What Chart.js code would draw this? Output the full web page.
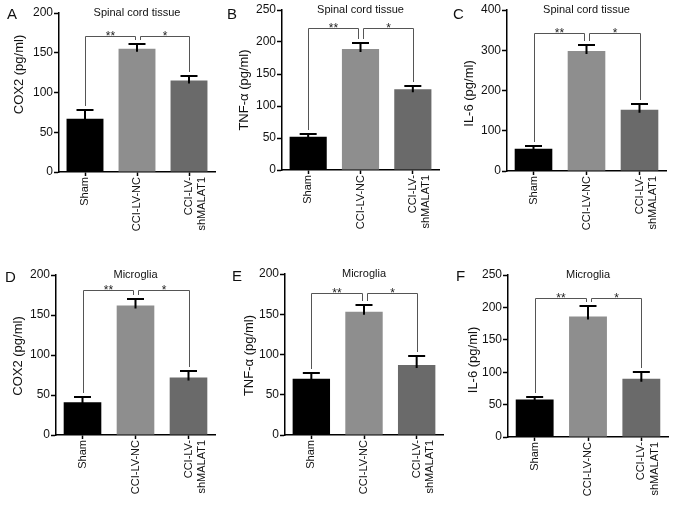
<!DOCTYPE html>
<html>
<head>
<meta charset="utf-8">
<script src="https://cdn.jsdelivr.net/npm/chart.js@4.4.0/dist/chart.umd.min.js"></script>
<style>
  body { margin: 0; background: #fff; width: 677px; height: 507px; position: relative; overflow: hidden; }
  canvas { position: absolute; }
</style>
</head>
<body>
<canvas id="pA" width="225" height="250" style="left:0;top:0"></canvas>
<canvas id="pB" width="225" height="250" style="left:225px;top:0"></canvas>
<canvas id="pC" width="227" height="250" style="left:450px;top:0"></canvas>
<canvas id="pD" width="225" height="257" style="left:0;top:250px"></canvas>
<canvas id="pE" width="225" height="257" style="left:225px;top:250px"></canvas>
<canvas id="pF" width="227" height="257" style="left:450px;top:250px"></canvas>
<script>
"use strict";

const FONT = "'Liberation Sans', Arial, Helvetica, sans-serif";

// groups on the x axis (last one split over two lines)
const categories = [["Sham"], ["CCI-LV-NC"], ["CCI-LV-", "shMALAT1"]];
const barColors = ["#000000", "#8e8e8e", "#6a6a6a"];

const panelLetters = ["A", "B", "C", "D", "E", "F"];
const panelTitles = ["Spinal cord tissue", "Spinal cord tissue", "Spinal cord tissue", "Microglia", "Microglia", "Microglia"];
const yTitles = ["COX2 (pg/ml)", "TNF-\u03b1 (pg/ml)", "IL-6 (pg/ml)", "COX2 (pg/ml)", "TNF-\u03b1 (pg/ml)", "IL-6 (pg/ml)"];
const yMax = [200, 250, 400, 200, 200, 250];
const yStep = [50, 50, 100, 50, 50, 50];

// mean values and error (SEM)
const spinalCox2 = [67, 155, 115];
const spinalCox2Err = [11, 6, 6];
const spinalTnf = [52, 189, 126];
const spinalTnfErr = [4, 10, 6];
const spinalIl6 = [55, 298, 152];
const spinalIl6Err = [7, 14, 15];
const microCox2 = [41, 162, 72];
const microCox2Err = [6, 8, 8];
const microTnf = [70, 153, 87];
const microTnfErr = [7, 8, 11];
const microIl6 = [58, 186, 90];
const microIl6Err = [4, 16, 11];

const allValues = [spinalCox2, spinalTnf, spinalIl6, microCox2, microTnf, microIl6];
const allErrors = [spinalCox2Err, spinalTnfErr, spinalIl6Err, microCox2Err, microTnfErr, microIl6Err];

// height of the significance brackets, and their labels
const bracketLevel = [171, 222, 344, 181, 177, 215];
const stars = ["**", "*"];

// layout of each panel inside its canvas: plot left/right/top/bottom,
// y title x and vertical shift, letter spot
const layouts = [
  { id: "pA", l: 59, r: 215, t: 13, b: 172, tx: 19, ty: -18, lx: 7, ly: 19 },
  { id: "pB", l: 57, r: 214, t: 10, b: 170, tx: 19, ty: 0, lx: 2, ly: 19 },
  { id: "pC", l: 57, r: 216, t: 10, b: 171, tx: 19, ty: 3, lx: 3, ly: 19 },
  { id: "pD", l: 56, r: 215, t: 25, b: 185, tx: 18, ty: 1, lx: 5, ly: 32 },
  { id: "pE", l: 60, r: 218, t: 24, b: 185, tx: 24.5, ty: 1, lx: 7, ly: 31 },
  { id: "pF", l: 58, r: 218, t: 25, b: 187, tx: 23, ty: 4, lx: 6, ly: 31 },
];

// error bars, brackets, panel title, y title and letter
const sigPanel = {
  id: "sigPanel",
  afterDatasetsDraw(chart, args, o) {
    const { ctx, chartArea } = chart;
    const y = chart.scales.y;
    const bars = chart.getDatasetMeta(0).data;
    const vals = chart.data.datasets[0].data;
    const tops = [];
    ctx.save();

    ctx.strokeStyle = "#000";
    ctx.lineWidth = 2;
    bars.forEach((bar, i) => {
      const top = Math.round(y.getPixelForValue(vals[i] + o.errors[i]));
      tops.push(top);
      ctx.beginPath();
      ctx.moveTo(bar.x, bar.y + 3);
      ctx.lineTo(bar.x, top);
      ctx.moveTo(bar.x - 8.5, top);
      ctx.lineTo(bar.x + 8.5, top);
      ctx.stroke();
    });

    const by = Math.round(y.getPixelForValue(o.bracket)) + 0.5;
    ctx.strokeStyle = "#555";
    ctx.lineWidth = 1;
    ctx.fillStyle = "#222";
    ctx.font = "12px " + FONT;
    ctx.textAlign = "center";
    ctx.textBaseline = "alphabetic";
    [[0, 1], [1, 2]].forEach(([a, b], k) => {
      const xa = Math.round(bars[a].x + (k === 1 ? 2.5 : 0)) + 0.5;
      const xb = Math.round(bars[b].x - (k === 0 ? 2.5 : 0)) + 0.5;
      ctx.beginPath();
      ctx.moveTo(xa, tops[a] - 4);
      ctx.lineTo(xa, by);
      ctx.lineTo(xb, by);
      ctx.lineTo(xb, tops[b] - 4);
      ctx.stroke();
      ctx.fillText(stars[k], (xa + xb) / 2, by + 3);
    });

    ctx.fillStyle = "#111";
    ctx.font = "11px " + FONT;
    ctx.textBaseline = "middle";
    ctx.fillText(o.title, (chartArea.left + chartArea.right) / 2, chartArea.top - 0.5);

    // y axis title
    ctx.save();
    ctx.font = "13px " + FONT;
    ctx.translate(o.tx, (chartArea.top + chartArea.bottom) / 2 + o.ty);
    ctx.rotate(-Math.PI / 2);
    ctx.fillText(o.yTitle, 0, 0);
    ctx.restore();

    ctx.font = "15px " + FONT;
    ctx.textAlign = "left";
    ctx.textBaseline = "alphabetic";
    ctx.fillText(o.letter, o.lx, o.ly);
    ctx.restore();
  },
};

function makeChart(p, i) {
  const canvas = document.getElementById(p.id);
  const w = canvas.width, h = canvas.height;
  return new Chart(canvas, {
    type: "bar",
    data: {
      labels: categories,
      datasets: [{
        data: allValues[i],
        backgroundColor: barColors,
        borderWidth: 0,
        barPercentage: 0.71,
        categoryPercentage: 1,
      }],
    },
    options: {
      responsive: false,
      animation: false,
      devicePixelRatio: 1,
      layout: { padding: { left: 0, top: p.t, right: w - p.r, bottom: 0 } },
      plugins: {
        legend: { display: false },
        tooltip: { enabled: false },
        sigPanel: {
          errors: allErrors[i],
          bracket: bracketLevel[i],
          title: panelTitles[i],
          yTitle: yTitles[i],
          letter: panelLetters[i],
          tx: p.tx,
          ty: p.ty,
          lx: p.lx,
          ly: p.ly,
        },
      },
      scales: {
        x: {
          grid: { display: true, drawOnChartArea: false, offset: false, tickLength: 4, color: "#000", tickWidth: 1.5 },
          border: { color: "#000", width: 1.5 },
          ticks: { color: "#111", font: { family: FONT, size: 11 }, maxRotation: 90, minRotation: 90, padding: 1, autoSkip: false },
          afterFit: (s) => {
            s.height = h - p.b;
            s.paddingLeft = 0;
            s.paddingRight = 0;
          },
        },
        y: {
          min: 0,
          max: yMax[i],
          grid: { drawOnChartArea: false, tickLength: 5, color: "#000", tickWidth: 1.5 },
          border: { color: "#000", width: 1.5 },
          ticks: { stepSize: yStep[i], color: "#111", font: { family: FONT, size: 12 }, padding: 1 },
          afterFit: (s) => {
            s.width = p.l;
            s.paddingTop = 0;
            s.paddingBottom = 0;
          },
        },
      },
    },
    plugins: [sigPanel],
  });
}

layouts.forEach((p, i) => makeChart(p, i));
</script>
</body>
</html>
